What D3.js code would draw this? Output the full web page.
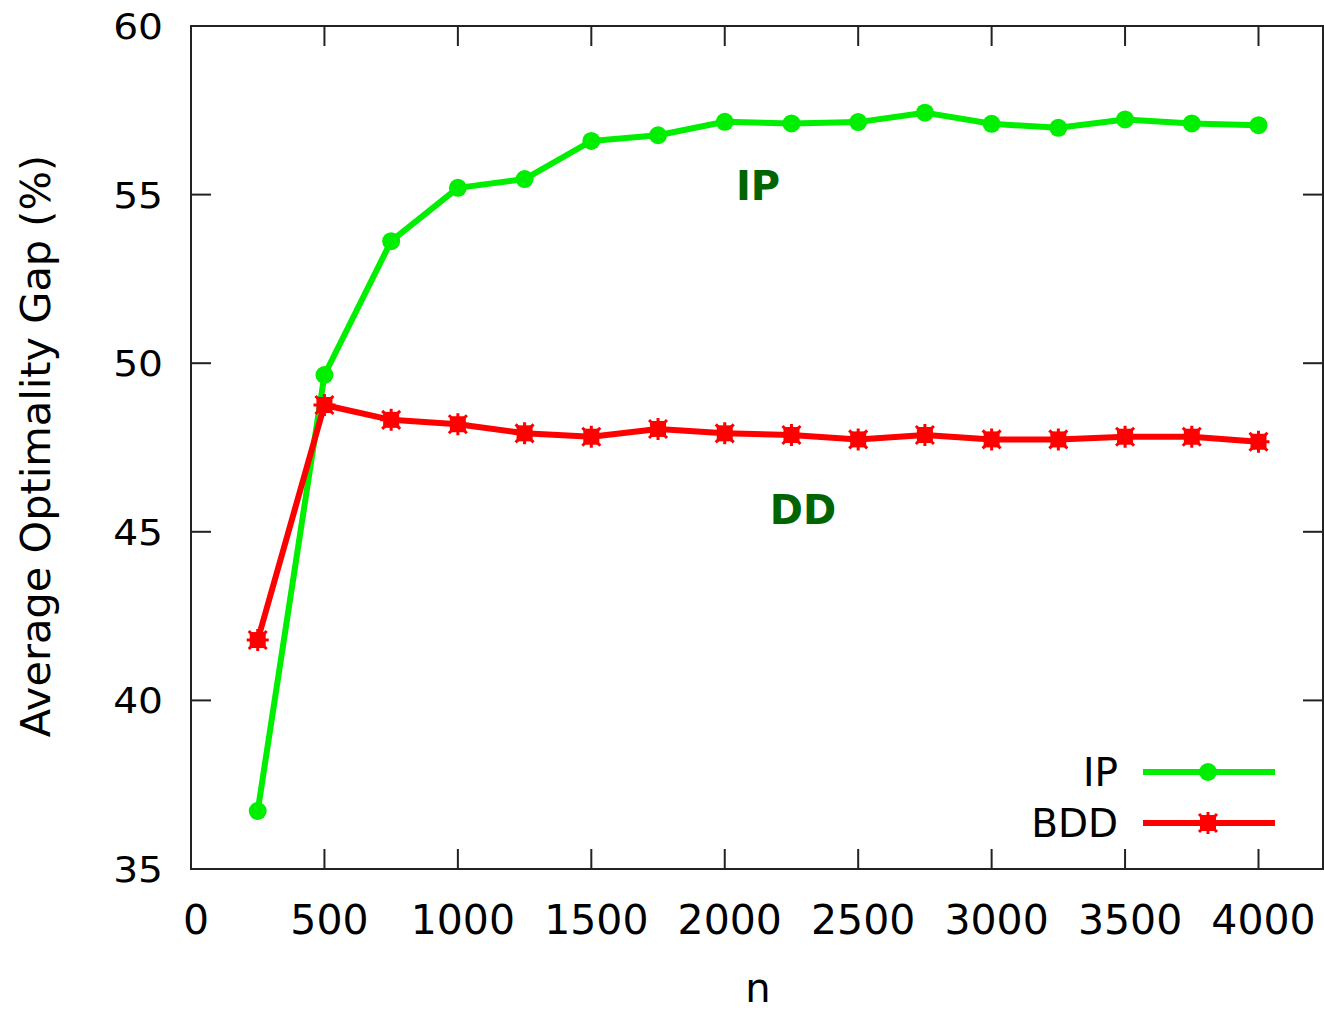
<!DOCTYPE html>
<html>
<head>
<meta charset="utf-8">
<script src="https://cdn.jsdelivr.net/npm/d3@7"></script>
<style>
  html, body { margin: 0; padding: 0; background: #fff; }
  svg { display: block; }
  text { font-family: "DejaVu Sans", sans-serif; fill: #000; }
</style>
</head>
<body>
<svg id="chart" width="1324" height="1011"></svg>
<script>
// Problem sizes n
const sizes = [250, 500, 750, 1000, 1250, 1500, 1750, 2000, 2250, 2500, 2750, 3000, 3250, 3500, 3750, 4000];
// Average optimality gap (%) per method
const ipGap  = [36.72, 49.65, 53.62, 55.2, 55.46, 56.59, 56.76, 57.16, 57.11, 57.15, 57.43, 57.10, 56.98, 57.23, 57.11, 57.06];
const bddGap = [41.79, 48.76, 48.32, 48.19, 47.92, 47.82, 48.05, 47.92, 47.87, 47.74, 47.87, 47.74, 47.74, 47.82, 47.82, 47.67];
// Axis ticks
const xTicks = [0, 500, 1000, 1500, 2000, 2500, 3000, 3500, 4000];
const yTicks = [35, 40, 45, 50, 55, 60];
// Series names
const seriesNames = ["IP", "BDD"];

const svg = d3.select("#chart");
const plotL = 191, plotR = 1323, plotT = 26, plotB = 869;

const x = d3.scaleLinear().domain([0, 4000]).range([plotL, 1258.5]);
const y = d3.scaleLinear().domain([35, 60]).range([plotB, plotT]);

const green = "#00ee00", red = "#ff0000", annot = "#006400";

// Frame
svg.append("rect")
  .attr("x", plotL).attr("y", plotT)
  .attr("width", plotR - plotL).attr("height", plotB - plotT)
  .attr("fill", "none").attr("stroke", "#222").attr("stroke-width", 2);

// Ticks (mirrored on both sides, inward)
const tickLen = 20;
const tickG = svg.append("g").attr("stroke", "#222").attr("stroke-width", 2);
xTicks.slice(1).forEach(t => {
  tickG.append("line").attr("x1", x(t)).attr("x2", x(t)).attr("y1", plotB).attr("y2", plotB - tickLen);
  tickG.append("line").attr("x1", x(t)).attr("x2", x(t)).attr("y1", plotT).attr("y2", plotT + tickLen);
});
yTicks.slice(1, -1).forEach(t => {
  tickG.append("line").attr("x1", plotL).attr("x2", plotL + tickLen).attr("y1", y(t)).attr("y2", y(t));
  tickG.append("line").attr("x1", plotR).attr("x2", plotR - tickLen).attr("y1", y(t)).attr("y2", y(t));
});

// Tick labels
svg.append("g").selectAll("text").data(xTicks).join("text")
  .attr("x", d => x(d) + 5).attr("y", 934)
  .attr("text-anchor", "middle")
  .attr("font-size", 41)
  .text(d => d);

svg.append("g").selectAll("text").data(yTicks).join("text")
  .attr("transform", d => `translate(163,${y(d) + 13}) scale(1.12,1)`)
  .attr("text-anchor", "end")
  .attr("font-size", 35)
  .text(d => d);

// Axis titles
svg.append("text")
  .attr("x", 758).attr("y", 1002)
  .attr("text-anchor", "middle")
  .attr("font-size", 40)
  .text("n");

svg.append("text")
  .attr("transform", "translate(50,446) rotate(-90)")
  .attr("text-anchor", "middle")
  .attr("font-size", 41.5)
  .text("Average Optimality Gap (%)");

// Marker: filled square with star-like notches
function bddMarker(g, cx, cy) {
  const m = g.append("g").attr("transform", `translate(${cx},${cy})`);
  m.append("rect").attr("x", -8).attr("y", -8).attr("width", 16).attr("height", 16).attr("fill", red);
  m.append("path")
    .attr("d", "M-11,0H11M0,-11V11M-9,-9L9,9M-9,9L9,-9")
    .attr("stroke", red).attr("stroke-width", 3).attr("fill", "none");
}

const line = d3.line().x(d => x(d[0])).y(d => y(d[1]));
const ipData = sizes.map((n, i) => [n, ipGap[i]]);
const bddData = sizes.map((n, i) => [n, bddGap[i]]);

// IP series
svg.append("path").datum(ipData)
  .attr("d", line).attr("fill", "none")
  .attr("stroke", green).attr("stroke-width", 6).attr("stroke-linejoin", "round");
svg.append("g").selectAll("circle").data(ipData).join("circle")
  .attr("cx", d => x(d[0])).attr("cy", d => y(d[1])).attr("r", 9).attr("fill", green);

// BDD series
svg.append("path").datum(bddData)
  .attr("d", line).attr("fill", "none")
  .attr("stroke", red).attr("stroke-width", 6).attr("stroke-linejoin", "round");
const bddG = svg.append("g");
bddData.forEach(d => bddMarker(bddG, x(d[0]), y(d[1])));

// In-plot annotations
svg.append("text")
  .attr("x", 758).attr("y", 200)
  .attr("text-anchor", "middle")
  .attr("font-size", 40).attr("font-weight", "bold")
  .style("fill", annot)
  .text("IP");
svg.append("text")
  .attr("x", 803).attr("y", 524)
  .attr("text-anchor", "middle")
  .attr("font-size", 40).attr("font-weight", "bold")
  .style("fill", annot)
  .text("DD");

// Legend
const legend = svg.append("g");
const legRows = [{ name: seriesNames[0], color: green, cy: 772 }, { name: seriesNames[1], color: red, cy: 823 }];
legRows.forEach((r, i) => {
  legend.append("text")
    .attr("x", 1118).attr("y", r.cy + 14)
    .attr("text-anchor", "end")
    .attr("font-size", 39)
    .text(r.name);
  legend.append("line")
    .attr("x1", 1143).attr("x2", 1275).attr("y1", r.cy).attr("y2", r.cy)
    .attr("stroke", r.color).attr("stroke-width", 6);
  if (i === 0) {
    legend.append("circle").attr("cx", 1208).attr("cy", r.cy).attr("r", 9).attr("fill", green);
  } else {
    bddMarker(legend, 1208, r.cy);
  }
});
</script>
</body>
</html>
